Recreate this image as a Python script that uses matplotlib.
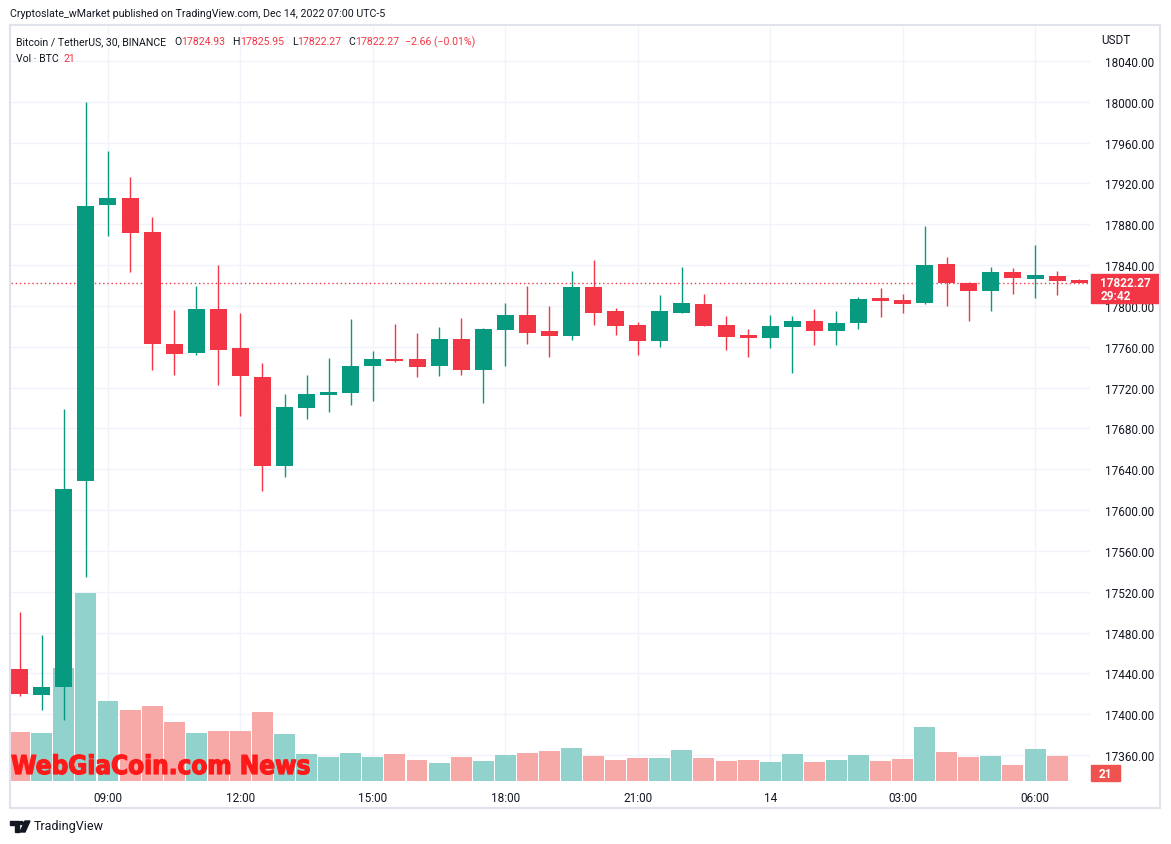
import numpy as np
import pandas as pd
import matplotlib
matplotlib.use('Agg')
import matplotlib.pyplot as plt
import matplotlib.patheffects as pe
from matplotlib import transforms
from matplotlib import font_manager as fm
from matplotlib.patches import Rectangle, Polygon, Circle

# ---- data (BTCUSDT 30m, Binance) ----
times = pd.date_range('2022-12-13 07:00', periods=49, freq='30min')

opens = [17444.3, 17418.5, 17426.7, 17628.0, 17899.0, 17906.0, 17872.7, 17762.3, 17753.5, 17797.3,
         17759.0, 17730.6, 17643.6, 17700.2, 17713.2, 17714.9, 17741.4, 17748.2, 17748.2, 17741.4,
         17767.8, 17737.5, 17776.7, 17791.4, 17775.7, 17770.8, 17818.8, 17795.3, 17781.6, 17765.9,
         17793.3, 17802.2, 17781.6, 17771.1, 17768.8, 17779.6, 17785.5, 17775.7, 17783.5, 17808.0,
         17806.1, 17803.1, 17841.4, 17822.7, 17814.9, 17833.5, 17826.7, 17829.6, 17824.93]
highs = [17500.2, 17477.6, 17699.2, 18000.2, 17952.0, 17926.7, 17887.5, 17796.3, 17819.8, 17840.4,
         17793.5, 17744.3, 17713.9, 17732.5, 17749.2, 17787.5, 17756.0, 17782.5, 17773.7, 17779.6,
         17788.4, 17778.6, 17803.1, 17819.8, 17800.2, 17834.5, 17845.3, 17798.2, 17784.5, 17811.0,
         17838.4, 17812.0, 17790.4, 17777.6, 17791.4, 17790.4, 17797.3, 17795.3, 17809.0, 17817.8,
         17812.0, 17878.6, 17848.2, 17823.7, 17838.4, 17837.5, 17860.0, 17834.5, 17825.95]
lows = [17417.8, 17404.0, 17394.6, 17534.5, 17869.0, 17832.8, 17736.8, 17731.9, 17752.0, 17723.0,
        17691.7, 17619.0, 17631.9, 17689.4, 17695.6, 17703.4, 17706.4, 17745.3, 17730.6, 17731.6,
        17732.5, 17705.1, 17741.4, 17762.9, 17750.2, 17766.9, 17781.6, 17771.8, 17752.2, 17760.0,
        17793.3, 17780.6, 17757.1, 17750.2, 17759.0, 17734.5, 17762.0, 17762.0, 17777.6, 17789.4,
        17793.3, 17802.2, 17800.2, 17785.5, 17795.3, 17812.0, 17808.0, 17811.0, 17822.27]
closes = [17419.8, 17426.7, 17620.8, 17898.2, 17906.0, 17871.8, 17762.3, 17752.5, 17797.3, 17756.4,
          17730.9, 17643.6, 17701.2, 17713.9, 17715.9, 17741.4, 17748.2, 17746.3, 17740.4, 17767.8,
          17737.5, 17777.6, 17791.4, 17773.7, 17770.8, 17818.8, 17793.3, 17780.6, 17765.9, 17795.3,
          17803.1, 17780.6, 17769.8, 17768.8, 17780.6, 17785.5, 17775.7, 17783.5, 17807.1, 17805.1,
          17802.2, 17840.4, 17822.7, 17814.9, 17833.5, 17827.6, 17830.6, 17824.7, 17822.27]
volumes = [8770, 8590, 20290, 33970, 14350, 12730, 13450, 10570, 8590, 8950,
           8950, 12370, 8410, 4810, 4270, 4990, 4270, 4810, 3730, 3190,
           4270, 3550, 4630, 4990, 5350, 5890, 4450, 3730, 4090, 4090,
           5530, 4090, 3550, 3730, 3370, 4810, 3370, 3730, 4630, 3550,
           3910, 9670, 5170, 4270, 4450, 2830, 5710, 4450, 21]
price_ticks = np.arange(17360, 18041, 40)

GREEN = '#089981'
RED = '#f23645'
VGREEN = '#92d2cc'
VRED = '#f7a9a7'
TXT = '#131722'
GRID = '#f0f3fa'

W, H = 1171, 845
plt.rcParams['font.family'] = ['Roboto', 'DejaVu Sans']


def fx(x):
    return x / W


def fy(y):
    return 1 - y / H


fig = plt.figure(figsize=(W / 100, H / 100), dpi=100)
fig.patch.set_facecolor('white')

ax = fig.add_axes([fx(11), fy(782), (1090 - 11) / W, (782 - 28) / H])
ax.set_facecolor('white')

x = np.arange(len(times))
o = np.array(opens)
c = np.array(closes)
up = c >= o
cols = np.where(up, GREEN, RED)
vcols = np.where(up, VGREEN, VRED)

# volume overlay, bottom quarter of the pane
vol_top = max(volumes) / 0.25
blend = transforms.blended_transform_factory(ax.transData, ax.transAxes)
ax.bar(x, np.array(volumes) / vol_top, bottom=0, width=0.95, color=vcols,
       transform=blend, zorder=2)

# candles
ax.vlines(x, lows, highs, colors=cols, lw=1, zorder=3)
body_h = np.maximum(np.abs(c - o), 1.5)
ax.bar(x, body_h, bottom=np.minimum(o, c), width=0.77, color=cols, zorder=4)

last = closes[-1]
ax.axhline(last, color=RED, lw=1, ls=(0, (1, 2)), zorder=3)

# axes / grid
tick_idx = [i for i, t in enumerate(times) if t.minute == 0 and t.hour % 3 == 0]
tick_lab = ['14' if times[i].hour == 0 else times[i].strftime('%H:%M') for i in tick_idx]
ax.set_xticks(tick_idx)
ax.set_xticklabels(tick_lab)
ax.set_yticks(price_ticks)
ax.set_yticklabels(['%.2f' % p for p in price_ticks])
ax.yaxis.tick_right()
ax.tick_params(axis='both', length=0, labelsize=8.5, labelcolor=TXT)
ax.tick_params(axis='y', pad=11)
ax.tick_params(axis='x', pad=7)
ax.grid(True, color=GRID, lw=1, zorder=0)
ax.set_axisbelow(True)
for s in ax.spines.values():
    s.set_visible(False)
ax.set_xlim(-0.394, 48.49)
ax.set_ylim(17334.5, 18073.3)

# last price tag
ytrans = transforms.blended_transform_factory(ax.transAxes, ax.transData)
ax.add_patch(Rectangle((1.001, last - 19.6), 0.063, 28.7, transform=ytrans,
                       color=RED, clip_on=False, zorder=6))
ax.text(1.0095, last + 1, '%.2f' % last, transform=ytrans, color='white',
        fontsize=8.5, fontweight='bold', va='center', ha='left', zorder=7)
ax.text(1.0095, last - 12.5, '29:42', transform=ytrans, color='white',
        fontsize=8.5, fontweight='bold', va='center', ha='left', zorder=7)

# last volume tag
ax.add_patch(Rectangle((1.001, 0), 0.0269, 0.0212, transform=ax.transAxes,
                       color='#ef5350', clip_on=False, zorder=6))
ax.text(1.0145, 0.0106, '21', transform=ax.transAxes, color='white',
        fontsize=8.5, fontweight='bold', va='center', ha='center', zorder=7)

# outer frame
fig.add_artist(Rectangle((fx(10), fy(809)), fx(1160) - fx(10), fy(26) - fy(809),
                         transform=fig.transFigure, fill=False,
                         edgecolor='#e0e3eb', lw=1.5))

# header texts
fig.text(fx(10), fy(14), 'Cryptoslate_wMarket published on TradingView.com, Dec 14, 2022 07:00 UTC-5',
         color=TXT, fontsize=7.7, va='center', ha='left')
fig.text(fx(1101), fy(40), 'USDT', color=TXT, fontsize=8.5, va='center', ha='left')

renderer = fig.canvas.get_renderer()


def put_row(parts, x0, y0, size=7.6):
    xx = x0
    for s, col, gap in parts:
        t = fig.text(fx(xx), fy(y0), s, color=col, fontsize=size, va='center', ha='left')
        xx += t.get_window_extent(renderer=renderer).width + gap


put_row([('Bitcoin / TetherUS, 30, BINANCE', TXT, 8),
         ('O', TXT, 0), ('17824.93', RED, 7),
         ('H', TXT, 0), ('17825.95', RED, 8),
         ('L', TXT, 0), ('17822.27', RED, 7),
         ('C', TXT, 0), ('17822.27', RED, 6),
         ('\u22122.66 (\u22120.01%)', RED, 0)], 16, 42)
put_row([('Vol \u00b7 BTC', TXT, 5), ('21', RED, 0)], 16, 59)

# watermark: pick a narrow heavy face if one is installed
wm_font = None
for fam, stretch, key in [('Liberation Sans Narrow', 'normal', 'Narrow'),
                          ('DejaVu Sans', 'condensed', 'Condensed'),
                          ('Noto Sans', 'condensed', 'Condensed')]:
    fp = fm.FontProperties(family=fam, weight='bold', stretch=stretch)
    try:
        path = fm.findfont(fp, fallback_to_default=False)
    except Exception:
        continue
    if key in path:
        wm_font = fp
        break
if wm_font is None:
    wm_font = fm.FontProperties(family='DejaVu Sans', weight='bold')

wm = fig.text(fx(11), fy(775), 'WebGiaCoin.com News', color='#ff1a1a',
              fontproperties=wm_font, va='baseline', ha='left', zorder=10)
wm.set_fontsize(23)
wbb = wm.get_window_extent(renderer=renderer)
wm.set_fontsize(23 * 300 / wbb.width)
wm.set_path_effects([pe.withStroke(linewidth=0.9, foreground='#ff1a1a')])

# footer logo + name
fig.add_artist(Polygon([(fx(10), fy(822)), (fx(19), fy(822)), (fx(19), fy(833)),
                        (fx(15), fy(833)), (fx(15), fy(826)), (fx(10), fy(826))],
                       closed=True, transform=fig.transFigure, color=TXT))
fig.add_artist(Circle((fx(21.5), fy(824)), 2 / W, transform=fig.transFigure, color=TXT))
fig.add_artist(Polygon([(fx(25), fy(822)), (fx(30), fy(822)), (fx(25), fy(833)),
                        (fx(20), fy(833))],
                       closed=True, transform=fig.transFigure, color=TXT))
fig.text(fx(34), fy(827), 'TradingView', color=TXT, fontsize=9, va='center', ha='left')

fig.savefig('out.png', dpi=100)
